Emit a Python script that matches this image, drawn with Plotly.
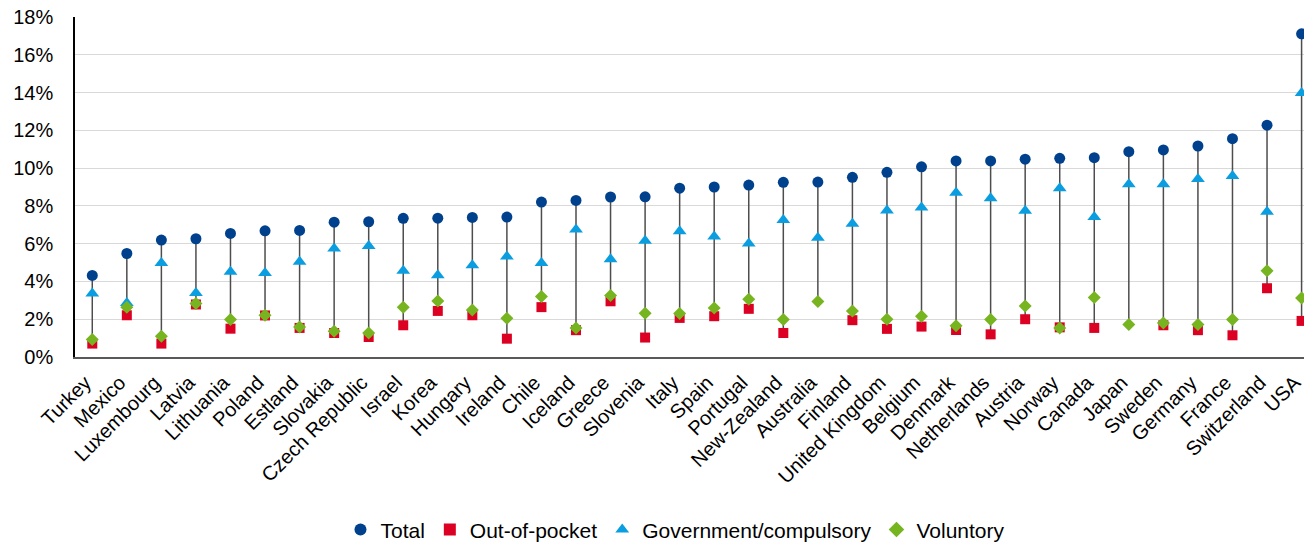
import plotly.graph_objects as go

countries = ["Turkey", "Mexico", "Luxembourg", "Latvia", "Lithuania", "Poland", "Estland",
             "Slovakia", "Czech Republic", "Israel", "Korea", "Hungary", "Ireland", "Chile",
             "Iceland", "Greece", "Slovenia", "Italy", "Spain", "Portugal", "New-Zealand",
             "Australia", "Finland", "United Kingdom", "Belgium", "Denmark", "Netherlands",
             "Austria", "Norway", "Canada", "Japan", "Sweden", "Germany", "France",
             "Switzerland", "USA"]

total = [4.32, 5.48, 6.19, 6.26, 6.54, 6.68, 6.70, 7.14, 7.16, 7.34, 7.35, 7.39, 7.41, 8.20,
         8.29, 8.47, 8.48, 8.94, 9.00, 9.10, 9.25, 9.26, 9.51, 9.78, 10.07, 10.38, 10.38,
         10.47, 10.52, 10.55, 10.87, 10.96, 11.17, 11.56, 12.27, 17.11]

out_of_pocket = [0.71, 2.21, 0.71, 2.78, 1.50, 2.20, 1.54, 1.27, 1.06, 1.68, 2.44, 2.21, 0.97,
                 2.64, 1.42, 2.95, 1.03, 2.07, 2.16, 2.55, 1.27, None, 1.95, 1.49, 1.61, 1.43,
                 1.20, 2.00, 1.57, 1.54, None, 1.68, 1.42, 1.15, 3.64, 1.91]

government = [3.36, 2.86, 4.98, 3.39, 4.51, 4.45, 5.04, 5.75, 5.87, 4.56, 4.33, 4.86, 5.32,
              4.97, 6.75, 5.18, 6.15, 6.66, 6.38, 6.01, 7.25, 6.31, 7.05, 7.76, 7.92, 8.70,
              8.40, 7.74, 8.94, 7.41, 9.14, 9.14, 9.42, 9.58, 7.69, 13.97]

voluntary = [0.92, 2.64, 1.10, 2.83, 1.98, 2.21, 1.59, 1.36, 1.27, 2.64, 2.97, 2.49, 2.05,
             3.20, 1.54, 3.26, 2.32, 2.30, 2.60, 3.06, 1.98, 2.94, 2.44, 2.00, 2.16, 1.66,
             1.98, 2.70, 1.54, 3.15, 1.72, 1.80, 1.72, 1.98, 4.56, 3.13]

y_ticks = [0, 2, 4, 6, 8, 10, 12, 14, 16, 18]
y_tick_labels = [f"{v}%" for v in y_ticks]

FONT = "Liberation Sans, Arial, sans-serif"

# high-low lines from the highest to the lowest value of each country
line_x, line_y = [], []
for i, c in enumerate(countries):
    vals = [v for v in (total[i], out_of_pocket[i], government[i], voluntary[i]) if v is not None]
    line_x += [c, c, None]
    line_y += [max(vals), min(vals), None]

fig = go.Figure()
fig.add_trace(go.Scatter(x=line_x, y=line_y, mode="lines",
                         line=dict(color="#4d4d4d", width=1.5),
                         showlegend=False, hoverinfo="skip"))
fig.add_trace(go.Scatter(x=countries, y=total, mode="markers", name="Total",
                         marker=dict(symbol="circle", size=11, color="#00418d")))
fig.add_trace(go.Scatter(x=countries, y=out_of_pocket, mode="markers", name="Out-of-pocket",
                         marker=dict(symbol="square", size=10, color="#dc0022")))
fig.add_trace(go.Scatter(x=countries, y=government, mode="markers", name="Government/compulsory",
                         marker=dict(symbol="triangle-up", size=12, color="#0a9ee0")))
fig.add_trace(go.Scatter(x=countries, y=voluntary, mode="markers", name="Voluntory",
                         marker=dict(symbol="diamond", size=10, color="#76b51f")))

fig.update_layout(
    width=1304, height=544,
    margin=dict(l=75, r=0, t=17, b=187, autoexpand=False),
    paper_bgcolor="white", plot_bgcolor="white",
    font=dict(family=FONT, size=20, color="#000000"),
    showlegend=True,
    legend=dict(orientation="h", xref="container", yref="container",
                x=0.518, xanchor="center", y=0.026, yanchor="middle",
                font=dict(size=21, color="#000000"), itemsizing="constant",
                tracegroupgap=0, itemwidth=30),
)
fig.update_xaxes(
    type="category", categoryorder="array", categoryarray=countries,
    range=[-0.5, 35.07], tickangle=-45, showgrid=False, automargin=False,
    showline=True, linecolor="#595959", linewidth=2,
    ticks="", ticklabelshift=-7, ticklabelstandoff=4,
    tickfont=dict(size=20, color="#000000"), zeroline=False,
)
fig.update_yaxes(
    range=[0, 18], tickvals=y_ticks, ticktext=y_tick_labels, automargin=False,
    showgrid=True, gridcolor="#d9d9d9", gridwidth=1,
    showline=True, linecolor="#000000", linewidth=1.5,
    ticks="", ticklabelstandoff=16, tickfont=dict(size=20, color="#000000"),
    zeroline=False,
)

fig.write_html("out.html")
